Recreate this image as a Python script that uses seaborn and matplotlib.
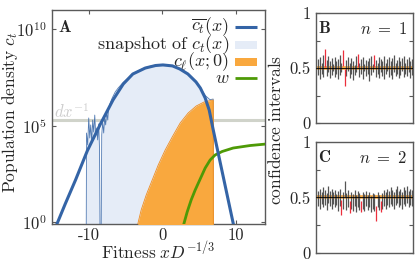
import numpy as np
import matplotlib
matplotlib.use("Agg")
import matplotlib.pyplot as plt
import seaborn as sns
from matplotlib.patches import Rectangle
from matplotlib.ticker import NullLocator, FixedLocator

sns.set_theme(style="ticks")
plt.rcParams.update({
    "font.family": "serif",
    "font.serif": ["cmr10"],
    "mathtext.fontset": "cm",
    "axes.unicode_minus": False,
    "axes.formatter.use_mathtext": True,
})

BLUE = "#3464a6"
LIGHT = "#e5ecf7"
ORANGE = "#f9a83e"
GREEN = "#4e9a06"
RED = "#ec2f3c"
GREY = "#555555"
SPINE = "#5a5a5a"

# ---- panel A data (fitness, log10 density) ----
mean_x = [-14.6, -13.2, -11.8, -10.2, -8.4, -6.7, -5.3, -4.0, -2.3, -0.9, 0.1,
          1.4, 2.4, 3.5, 4.6, 5.2, 5.85, 6.4, 6.95, 9.8]
mean_log = [-0.35, 0.94, 2.18, 3.69, 5.09, 6.33, 7.16, 7.68, 7.99, 8.12, 8.15,
            8.10, 7.94, 7.68, 7.27, 6.95, 6.44, 5.81, 4.78, -0.3]

snap_x = [-10.34, -10.30, -10.14, -10.0, -9.86, -9.73, -9.59, -9.46, -9.32, -9.18,
          -9.05, -8.91, -8.78, -8.64, -8.53, -8.46, -8.30, -8.23, -8.10, -7.96,
          -7.82, -7.69, -7.55, -7.41, -7.28, -7.07, -6.80, -6.39, -6.0, -5.3,
          -4.6, -3.9, -3.2, -2.5, -1.8, -1.1, -0.4, 0.3, 1.0, 1.7,
          2.4, 3.1, 3.8, 4.5, 5.2, 5.9, 6.5, 6.94, 6.96]
snap_log = [-0.5, 4.62, 4.0, 5.40, 4.36, 5.04, 4.15, 5.29, 4.67, 5.55,
            4.46, 4.88, 4.26, 5.09, 3.74, -0.5, -0.5, 4.52, 5.19, 4.62,
            5.40, 5.04, 5.71, 5.29, 5.92, 6.18, 6.44, 6.75, 6.95, 7.25,
            7.48, 7.70, 7.86, 7.98, 8.07, 8.13, 8.16, 8.15, 8.12, 8.05,
            7.95, 7.80, 7.60, 7.30, 6.95, 6.55, 6.35, 6.38, -0.5]

cl_x = [-3.45, -2.86, -2.18, -1.36, -0.54, 0.41, 1.36, 2.45, 3.54, 4.63, 5.71, 6.53, 6.94, 6.96]
cl_log = [-0.3, 0.63, 1.40, 2.18, 2.96, 3.74, 4.41, 5.14, 5.66, 6.02, 6.23, 6.30, 6.33, -0.5]

w_x = [2.8, 3.40, 3.95, 4.49, 5.17, 5.85, 6.53, 7.21, 8.16, 9.66, 11.97, 14.2]
w_log = [-0.3, 0.52, 1.15, 1.66, 2.23, 2.80, 3.22, 3.48, 3.66, 3.84, 3.97, 4.05]

dx_log = 5.3

legend_labels = [r"$\overline{c_t}(x)$", r"$\mathrm{snapshot\ of}\ c_t(x)$",
                 r"$c_\ell(x;0)$", r"$w$"]

# ---- panels B, C: confidence intervals ----
b_lo = [0.44, 0.40, 0.45, 0.42, 0.51, 0.43, 0.46, 0.41, 0.44, 0.47,
        0.42, 0.45, 0.40, 0.44, 0.46, 0.52, 0.34, 0.43, 0.47, 0.41,
        0.45, 0.39, 0.44, 0.46, 0.51, 0.42, 0.45, 0.40, 0.47, 0.43,
        0.45, 0.38, 0.44, 0.46, 0.51, 0.42, 0.45, 0.41, 0.46, 0.43,
        0.40, 0.45, 0.47, 0.42, 0.44, 0.40, 0.46, 0.43, 0.45, 0.41,
        0.44, 0.47, 0.42, 0.45, 0.43, 0.46, 0.41, 0.44]
b_hi = [0.58, 0.60, 0.55, 0.62, 0.67, 0.57, 0.61, 0.56, 0.59, 0.54,
        0.60, 0.56, 0.58, 0.62, 0.55, 0.66, 0.49, 0.57, 0.60, 0.55,
        0.59, 0.56, 0.53, 0.61, 0.63, 0.55, 0.58, 0.60, 0.54, 0.57,
        0.56, 0.59, 0.61, 0.54, 0.62, 0.57, 0.55, 0.60, 0.58, 0.56,
        0.61, 0.55, 0.58, 0.60, 0.56, 0.59, 0.62, 0.55, 0.57, 0.60,
        0.56, 0.59, 0.61, 0.55, 0.58, 0.60, 0.56, 0.58]
c_lo = [0.42, 0.40, 0.44, 0.41, 0.43, 0.39, 0.45, 0.42, 0.40, 0.44,
        0.41, 0.43, 0.38, 0.42, 0.34, 0.40, 0.50, 0.39, 0.41, 0.36,
        0.40, 0.38, 0.42, 0.37, 0.41, 0.39, 0.37, 0.40, 0.38, 0.42,
        0.39, 0.41, 0.37, 0.40, 0.38, 0.29, 0.41, 0.39, 0.37, 0.40,
        0.42, 0.40, 0.43, 0.41, 0.44, 0.42, 0.40, 0.43, 0.45, 0.41,
        0.43, 0.40, 0.44, 0.42, 0.45, 0.41, 0.43, 0.42]
c_hi = [0.56, 0.58, 0.55, 0.59, 0.57, 0.54, 0.60, 0.56, 0.58, 0.55,
        0.57, 0.53, 0.56, 0.58, 0.48, 0.55, 0.65, 0.54, 0.57, 0.47,
        0.55, 0.53, 0.57, 0.52, 0.56, 0.54, 0.47, 0.55, 0.53, 0.56,
        0.52, 0.55, 0.51, 0.54, 0.53, 0.42, 0.55, 0.52, 0.47, 0.54,
        0.57, 0.55, 0.58, 0.56, 0.59, 0.57, 0.55, 0.58, 0.60, 0.56,
        0.58, 0.55, 0.59, 0.57, 0.60, 0.56, 0.58, 0.57]
true_value = 0.5

FS = 12

fig = plt.figure(figsize=(4.15, 2.61), dpi=100)
axA = fig.add_axes([0.1253, 0.1418, 0.5133, 0.8199])
axB = fig.add_axes([0.7614, 0.5287, 0.2337, 0.4215])
axC = fig.add_axes([0.7614, 0.0307, 0.2337, 0.4253])

# ---------------------------------------------------------------
# A: fitness distribution
# ---------------------------------------------------------------
ax = axA
ax.set_yscale("log")
ax.axhline(10 ** dx_log, color="#d0d3ca", lw=2.2, zorder=1)
ax.text(-14.7, 10 ** (dx_log + 0.12), r"$dx^{-1}$", color="#cccccc", fontsize=FS, zorder=1)

snap_y = 10 ** np.array(snap_log)
ax.fill_between(snap_x, snap_y, 1e-2, color=LIGHT, lw=0, zorder=2)
ax.plot(snap_x, snap_y, color=BLUE, lw=0.6, alpha=0.85, zorder=3)

cl_y = 10 ** np.array(cl_log)
ax.fill_between(cl_x, cl_y, 1e-2, color=ORANGE, lw=0, zorder=4)
ax.plot(cl_x, cl_y, color="#f08c1e", lw=0.6, zorder=4)

sns.lineplot(x=w_x, y=10 ** np.array(w_log), color=GREEN, lw=2.0, sort=False,
             estimator=None, ax=ax, zorder=5)
sns.lineplot(x=mean_x, y=10 ** np.array(mean_log), color=BLUE, lw=2.2, sort=False,
             estimator=None, ax=ax, zorder=6)

ax.set_xlim(-15, 14)
ax.set_ylim(10 ** -0.1, 10 ** 11)
ax.set_xticks([-10, 0, 10])
ax.set_xticklabels(["-10", "0", "10"])
ax.set_yticks([1, 1e5, 1e10])
ax.yaxis.set_minor_locator(NullLocator())
ax.set_xlabel(r"$\mathrm{Fitness}\ xD^{-1/3}$", fontsize=FS + 0.5)
ax.set_ylabel(r"$\mathrm{Population\ density}\ c_t$", fontsize=FS + 0.5)
ax.xaxis.set_label_coords(0.5, -0.074)
ax.yaxis.set_label_coords(-0.152, 0.52)
ax.text(0.028, 0.958, r"$\mathbf{A}$", transform=ax.transAxes, va="top", ha="left", fontsize=FS)

# legend: labels right-aligned, handles on the right
rows_y = [0.921, 0.836, 0.757, 0.682]
hx0, hx1, tx = 0.859, 0.962, 0.833
for lab, yy in zip(legend_labels, rows_y):
    ax.text(tx, yy, lab, transform=ax.transAxes, ha="right", va="center",
            fontsize=13, zorder=8)
ax.plot([hx0, hx1], [rows_y[0]] * 2, transform=ax.transAxes, color=BLUE, lw=2.2,
        solid_capstyle="butt", zorder=8)
ax.add_patch(Rectangle((hx0, rows_y[1] - 0.019), hx1 - hx0, 0.038, transform=ax.transAxes,
                       facecolor=LIGHT, edgecolor="none", zorder=8))
ax.add_patch(Rectangle((hx0, rows_y[2] - 0.019), hx1 - hx0, 0.038, transform=ax.transAxes,
                       facecolor=ORANGE, edgecolor="none", zorder=8))
ax.plot([hx0, hx1], [rows_y[3]] * 2, transform=ax.transAxes, color=GREEN, lw=2.0,
        solid_capstyle="butt", zorder=8)

# ---------------------------------------------------------------
# B, C: coverage of confidence intervals
# ---------------------------------------------------------------
for ax, lo, hi, letter, n in [(axB, b_lo, b_hi, "B", 1), (axC, c_lo, c_hi, "C", 2)]:
    lo = np.array(lo)
    hi = np.array(hi)
    idx = np.arange(len(lo))
    miss = (lo > true_value) | (hi < true_value)
    ax.axhline(true_value, xmin=0.01, xmax=1, color=ORANGE, lw=2.6, zorder=1)
    ax.vlines(idx[~miss], lo[~miss], hi[~miss], color=GREY, lw=0.9, zorder=2)
    ax.vlines(idx[miss], lo[miss], hi[miss], color=RED, lw=0.9, zorder=3)
    ax.axhline(true_value, color="black", lw=0.6, zorder=4)
    ax.set_xlim(-1.5, len(lo) - 0.4)
    ax.set_ylim(0, 1)
    ax.set_xticks([])
    ax.set_yticks([0, 0.5, 1])
    ax.set_yticklabels(["0", "0.5", "1"])
    ax.yaxis.set_minor_locator(FixedLocator([0.25, 0.75]))
    ax.text(0.02, 0.94, r"$\mathbf{%s}$" % letter, transform=ax.transAxes,
            va="top", ha="left", fontsize=FS)
    ax.text(0.94, 0.93, r"$n\ =\ %d$" % n, transform=ax.transAxes,
            va="top", ha="right", fontsize=FS)

for ax in (axA, axB, axC):
    for s in ax.spines.values():
        s.set_color(SPINE)
        s.set_linewidth(1.0)
    ax.tick_params(which="both", direction="in", top=True, right=True, length=3,
                   width=0.8, color=SPINE, labelsize=FS)
axA.tick_params(axis="y", pad=4)
axA.tick_params(axis="x", pad=3)
for ax in (axB, axC):
    ax.tick_params(axis="y", which="minor", length=3)
    ax.tick_params(axis="y", pad=3.5)

fig.text(0.663, 0.502, r"$\mathrm{confidence\ intervals}$", rotation=90,
         ha="center", va="center", fontsize=FS + 0.5)

fig.savefig("out.png", dpi=100)
